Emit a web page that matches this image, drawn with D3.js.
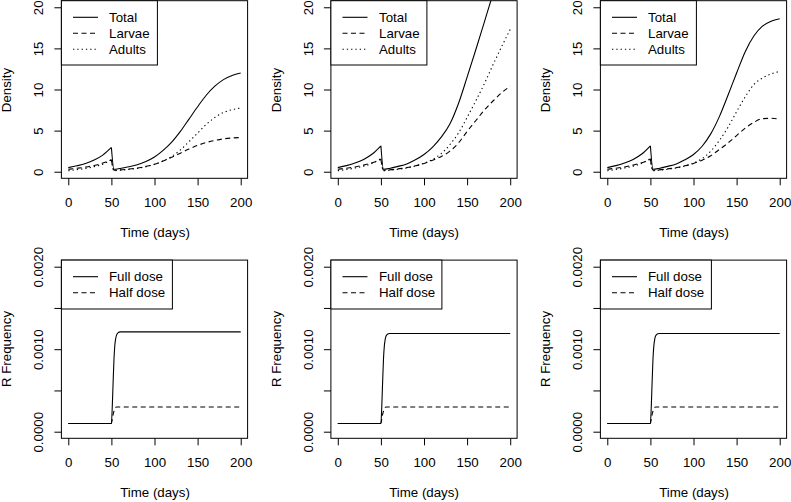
<!DOCTYPE html>
<html><head><meta charset="utf-8">
<script src="https://cdn.jsdelivr.net/npm/d3@7"></script>
<style>
body{margin:0;background:#fff}
svg text{font-family:"Liberation Sans",Arial,sans-serif;font-size:13.3px;fill:#000;font-weight:normal}
</style>
</head><body>
<svg id="c" width="791" height="502" style="color:#000"></svg>
<script>
// ---------- data ----------
const days = [0,10,20,30,40,50,53,60,70,80,90,100,110,120,130,140,150,160,170,180,190,200];
const breakDay = 50;

const totalA  = [0.5,0.72,1.0,1.42,2.02,2.95, 0.3,0.4,0.6,0.85,1.25,1.8,2.6,3.6,4.9,6.4,7.9,9.3,10.4,11.2,11.7,12.0];
const larvaeA = [0.3,0.42,0.56,0.76,1.05,1.45, 0.18,0.22,0.32,0.45,0.65,0.9,1.3,1.75,2.25,2.75,3.2,3.55,3.8,4.0,4.1,4.15];
const adultsA = [0.12,0.25,0.4,0.62,0.92,1.45, 0.12,0.18,0.28,0.4,0.6,0.9,1.3,1.85,2.65,3.65,4.7,5.75,6.6,7.2,7.55,7.75];

const totalB  = [0.5,0.74,1.05,1.5,2.15,3.15, 0.3,0.4,0.65,0.95,1.45,2.1,3.0,4.2,5.8,8.3,11.5,14.8,18.2,21.6,24.7,27.7];
const larvaeB = [0.3,0.43,0.58,0.8,1.1,1.5, 0.18,0.22,0.35,0.5,0.72,1.0,1.4,1.85,2.5,3.5,4.9,6.2,7.5,8.6,9.6,10.4];
const adultsB = [0.12,0.27,0.45,0.68,1.02,1.6, 0.12,0.18,0.3,0.45,0.7,1.05,1.5,2.2,3.3,4.7,6.6,8.6,10.7,13.0,15.2,17.3];

const totalC  = [0.5,0.74,1.05,1.5,2.15,3.15, 0.3,0.4,0.65,0.95,1.45,2.1,3.1,4.6,6.7,9.3,12.0,14.6,16.5,17.7,18.3,18.6];
const larvaeC = [0.3,0.43,0.58,0.8,1.1,1.5, 0.18,0.22,0.35,0.5,0.72,1.0,1.4,1.95,2.7,3.5,4.4,5.3,6.0,6.45,6.5,6.4];
const adultsC = [0.12,0.27,0.45,0.68,1.02,1.6, 0.12,0.18,0.3,0.45,0.7,1.05,1.6,2.5,3.8,5.4,7.3,9.1,10.6,11.4,11.9,12.2];

const doseDays = [0,50,51,52,53,54,55,56,58,60,200];
const fullA = [1e-4,1e-4,3e-4,6e-4,8.8e-4,1.05e-3,1.13e-3,1.17e-3,1.2e-3,1.21e-3,1.21e-3];
const halfA = [1e-4,1e-4,1.5e-4,2.1e-4,2.5e-4,2.8e-4,2.95e-4,3e-4,3e-4,3e-4,3e-4];
const fullB = [1e-4,1e-4,3e-4,6e-4,8.8e-4,1.04e-3,1.12e-3,1.16e-3,1.185e-3,1.19e-3,1.19e-3];
const halfB = [1e-4,1e-4,1.5e-4,2.1e-4,2.5e-4,2.8e-4,2.95e-4,3e-4,3e-4,3e-4,3e-4];
const fullC = [1e-4,1e-4,3e-4,6e-4,8.8e-4,1.04e-3,1.12e-3,1.16e-3,1.185e-3,1.19e-3,1.19e-3];
const halfC = [1e-4,1e-4,1.5e-4,2.1e-4,2.5e-4,2.8e-4,2.95e-4,3e-4,3e-4,3e-4,3e-4];

const xTicks = [0,50,100,150,200];
const densityTicks = [0,5,10,15,20];
const freqTicks = [0,0.0005,0.001,0.0015,0.002];
const freqTickLabels = ["0.0000","","0.0010","","0.0020"];
const densityLegend = ["Total","Larvae","Adults"];
const doseLegend = ["Full dose","Half dose"];
const xTitle = "Time (days)";

// ---------- layout ----------
const svg = d3.select("#c");
const panelLeft = [61.4, 330.9, 600.4];
const panelW = 186.2;
const rows = [
  {top:0.7, bottom:178.3, domain:[-0.8,20.8], ticks:densityTicks, labels:densityTicks.map(String), title:"Density",
   legend:densityLegend, legW:96, legH:64.3,
   series:[[totalA,larvaeA,adultsA],[totalB,larvaeB,adultsB],[totalC,larvaeC,adultsC]], xs:days, brk:breakDay},
  {top:260.1, bottom:438.3, domain:[-0.00008,0.00208], ticks:freqTicks, labels:freqTickLabels, title:"R Frequency",
   legend:doseLegend, legW:111, legH:48.9,
   series:[[fullA,halfA],[fullB,halfB],[fullC,halfC]], xs:doseDays, brk:null}
];
const dashes = [null, "5,3.5", "1.3,3"];

rows.forEach((row, ri) => {
  panelLeft.forEach((left, pi) => {
    const x = d3.scaleLinear().domain([-8,208]).range([left, left+panelW]);
    const y = d3.scaleLinear().domain(row.domain).range([row.bottom, row.top]);
    const g = svg.append("g");
    const cid = `clip${ri}${pi}`;
    svg.append("clipPath").attr("id", cid).append("rect")
      .attr("x", left).attr("y", row.top).attr("width", panelW).attr("height", row.bottom-row.top);

    const line = d3.line().x(d=>x(d[0])).y(d=>y(d[1])).curve(d3.curveMonotoneX);
    row.series[pi].forEach((vals, si) => {
      const pts = row.xs.map((t,i)=>[t, vals[i]]);
      let d;
      if (row.brk !== null) {
        const bi = row.xs.indexOf(row.brk);
        d = line(pts.slice(0, bi+1)) + line(pts.slice(bi));
      } else d = line(pts);
      g.append("path").attr("d", d).attr("fill","none").attr("stroke","#000")
        .attr("stroke-width",1.1).attr("stroke-dasharray", dashes[si])
        .attr("clip-path", `url(#${cid})`);
    });

    // x axis
    const ax = g.append("g").attr("transform", `translate(0,${row.bottom})`)
      .call(d3.axisBottom(x).tickValues(xTicks).tickSize(7).tickSizeOuter(0));
    ax.select(".domain").remove();
    ax.selectAll("text").attr("y", 28.7).attr("dy", 0);
    ax.attr("font-family", null).attr("font-size", null);

    // y axis
    const ay = g.append("g").attr("transform", `translate(${left},0)`)
      .call(d3.axisLeft(y).tickValues(row.ticks).tickFormat((d,i)=>row.labels[i]).tickSize(7).tickSizeOuter(0));
    ay.select(".domain").remove();
    ay.selectAll("text").attr("x", 0).attr("dy", 0).attr("text-anchor","middle")
      .attr("transform","translate(-18.4,0) rotate(-90)");
    ay.attr("font-family", null).attr("font-size", null);

    // box
    g.append("rect").attr("x", left).attr("y", row.top).attr("width", panelW)
      .attr("height", row.bottom-row.top).attr("fill","none").attr("stroke","#000").attr("stroke-width",1);

    // titles
    g.append("text").attr("x", Math.round(left+panelW/2)).attr("y", Math.round(row.bottom+58.7))
      .attr("text-anchor","middle").text(xTitle);
    g.append("text").attr("text-anchor","middle")
      .attr("transform", `translate(${Math.round(left-50)},${Math.round((row.top+row.bottom)/2)}) rotate(-90)`).text(row.title);

    // legend
    const lg = g.append("g");
    lg.append("rect").attr("x", left).attr("y", row.top).attr("width", row.legW).attr("height", row.legH)
      .attr("fill","#fff").attr("stroke","#000").attr("stroke-width",1);
    row.legend.forEach((name, li) => {
      const cy = row.top + 16.6 + 16*li;
      lg.append("line").attr("x1", left+11.6).attr("x2", left+36.6).attr("y1", cy).attr("y2", cy)
        .attr("stroke","#000").attr("stroke-width",1.1).attr("stroke-dasharray", dashes[li]);
      lg.append("text").attr("x", Math.round(left+47.6)).attr("y", Math.round(cy+4.7)).text(name);
    });
  });
});
</script>
</body></html>
